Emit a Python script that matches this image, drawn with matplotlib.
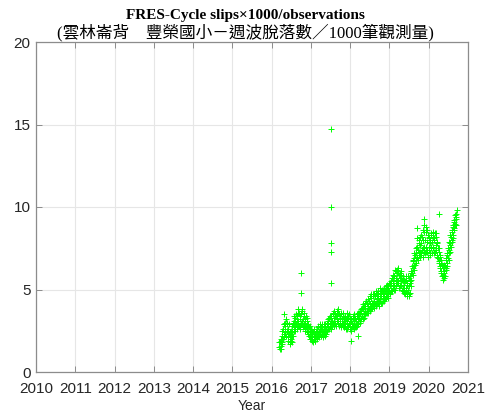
import matplotlib
matplotlib.use("Agg")
import matplotlib.pyplot as plt

# =========================
# Data
# =========================

# observation epochs, decimal year
t = [
    2016.200, 2016.215, 2016.230, 2016.245, 2016.260, 2016.275, 2016.290, 2016.305, 2016.320, 2016.335,
    2016.350, 2016.365, 2016.380, 2016.395, 2016.410, 2016.425, 2016.440, 2016.455, 2016.470, 2016.485,
    2016.500, 2016.515, 2016.530, 2016.545, 2016.560, 2016.575, 2016.590, 2016.605, 2016.620, 2016.635,
    2016.650, 2016.665, 2016.680, 2016.695, 2016.710, 2016.725, 2016.740, 2016.755, 2016.770, 2016.785,
    2016.800, 2016.815, 2016.830, 2016.845, 2016.860, 2016.875, 2016.890, 2016.905, 2016.920, 2016.935,
    2016.950, 2016.965, 2016.980, 2016.995, 2017.010, 2017.025, 2017.040, 2017.055, 2017.070, 2017.085,
    2017.100, 2017.115, 2017.130, 2017.145, 2017.160, 2017.175, 2017.190, 2017.205, 2017.220, 2017.235,
    2017.250, 2017.265, 2017.280, 2017.295, 2017.310, 2017.325, 2017.340, 2017.355, 2017.370, 2017.385,
    2017.400, 2017.415, 2017.430, 2017.445, 2017.460, 2017.475, 2017.490, 2017.505, 2017.520, 2017.535,
    2017.550, 2017.565, 2017.580, 2017.595, 2017.610, 2017.625, 2017.640, 2017.655, 2017.670, 2017.685,
    2017.700, 2017.715, 2017.730, 2017.745, 2017.760, 2017.775, 2017.790, 2017.805, 2017.820, 2017.835,
    2017.850, 2017.865, 2017.880, 2017.895, 2017.910, 2017.925, 2017.940, 2017.955, 2017.970, 2017.985,
    2018.000, 2018.015, 2018.030, 2018.045, 2018.060, 2018.075, 2018.090, 2018.105, 2018.120, 2018.135,
    2018.150, 2018.165, 2018.180, 2018.195, 2018.210, 2018.225, 2018.240, 2018.255, 2018.270, 2018.285,
    2018.300, 2018.315, 2018.330, 2018.345, 2018.360, 2018.375, 2018.390, 2018.405, 2018.420, 2018.435,
    2018.450, 2018.465, 2018.480, 2018.495, 2018.510, 2018.525, 2018.540, 2018.555, 2018.570, 2018.585,
    2018.600, 2018.615, 2018.630, 2018.645, 2018.660, 2018.675, 2018.690, 2018.705, 2018.720, 2018.735,
    2018.750, 2018.765, 2018.780, 2018.795, 2018.810, 2018.825, 2018.840, 2018.855, 2018.870, 2018.885,
    2018.900, 2018.915, 2018.930, 2018.945, 2018.960, 2018.975, 2018.990, 2019.005, 2019.020, 2019.035,
    2019.050, 2019.065, 2019.080, 2019.095, 2019.110, 2019.125, 2019.140, 2019.155, 2019.170, 2019.185,
    2019.200, 2019.215, 2019.230, 2019.245, 2019.260, 2019.275, 2019.290, 2019.305, 2019.320, 2019.335,
    2019.350, 2019.365, 2019.380, 2019.395, 2019.410, 2019.425, 2019.440, 2019.455, 2019.470, 2019.485,
    2019.500, 2019.515, 2019.530, 2019.545, 2019.560, 2019.575, 2019.590, 2019.605, 2019.620, 2019.635,
    2019.650, 2019.665, 2019.680, 2019.695, 2019.710, 2019.725, 2019.740, 2019.755, 2019.770, 2019.785,
    2019.800, 2019.815, 2019.830, 2019.845, 2019.860, 2019.875, 2019.890, 2019.905, 2019.920, 2019.935,
    2019.950, 2019.965, 2019.980, 2019.995, 2020.010, 2020.025, 2020.040, 2020.055, 2020.070, 2020.085,
    2020.100, 2020.115, 2020.130, 2020.145, 2020.160, 2020.175, 2020.190, 2020.205, 2020.220, 2020.235,
    2020.250, 2020.265, 2020.280, 2020.295, 2020.310, 2020.325, 2020.340, 2020.355, 2020.370, 2020.385,
    2020.400, 2020.415, 2020.430, 2020.445, 2020.460, 2020.475, 2020.490, 2020.505, 2020.520, 2020.535,
    2020.550, 2020.565, 2020.580, 2020.595, 2020.610, 2020.625, 2020.640, 2020.655, 2020.670, 2020.685,
    2020.700,
]

# cycle slips x 1000 / observations (first solution of each epoch)
slips_a = [
    1.5, 1.8, 1.4, 1.9, 2.2, 1.7, 2.6, 2.1, 2.9, 2.4,
    2.8, 2.2, 3.0, 2.5, 1.9, 2.6, 2.3, 1.8, 2.1, 2.5,
    1.9, 2.4, 2.8, 2.2, 3.1, 2.7, 2.5, 3.3, 2.9, 2.6,
    3.4, 2.8, 3.1, 3.6, 2.7, 3.2, 3.5, 2.9, 3.0, 3.7,
    3.2, 2.8, 3.4, 2.6, 3.0, 2.7, 3.3, 2.5, 2.9, 2.4,
    2.7, 2.3, 2.5, 2.0, 2.6, 2.2, 1.9, 2.4, 2.1, 2.3,
    1.9, 2.2, 2.5, 2.0, 2.4, 2.7, 2.2, 2.5, 2.9, 2.3,
    2.6, 2.2, 2.8, 2.4, 2.5, 2.9, 2.3, 2.7, 2.4, 2.6,
    2.9, 2.5, 3.1, 2.7, 3.3, 2.8, 3.0, 3.4, 2.6, 3.1,
    3.5, 2.9, 3.3, 3.7, 3.0, 3.4, 2.8, 3.6, 3.2, 3.8,
    3.1, 3.5, 2.9, 3.3, 3.6, 2.8, 3.2, 3.0, 3.4, 2.7,
    3.1, 2.8, 3.3, 2.6, 3.0, 3.2, 2.7, 3.4, 2.9, 2.6,
    2.8, 3.1, 2.5, 3.0, 2.7, 3.2, 2.6, 2.9, 3.3, 2.8,
    3.1, 2.9, 3.4, 3.0, 3.3, 3.6, 3.1, 3.5, 3.2, 3.7,
    3.4, 3.8, 3.3, 3.6, 4.0, 3.5, 3.9, 3.6, 4.2, 3.7,
    4.0, 3.7, 4.3, 3.9, 4.1, 4.5, 3.8, 4.2, 4.6, 4.0,
    4.3, 4.0, 4.6, 4.2, 4.8, 4.4, 4.1, 4.7, 4.5, 4.3,
    4.8, 4.4, 4.9, 4.6, 4.2, 4.7, 5.0, 4.5, 4.8, 4.4,
    4.9, 4.6, 5.1, 4.8, 4.5, 5.2, 4.9, 5.3, 4.7, 5.0,
    5.4, 4.9, 5.6, 5.2, 5.8, 5.3, 5.0, 5.7, 5.5, 6.0,
    5.6, 6.3, 5.4, 5.9, 5.2, 5.7, 6.1, 5.3, 5.6, 5.1,
    5.5, 5.0, 5.3, 4.7, 5.6, 5.1, 4.8, 5.4, 5.0, 5.7,
    4.6, 5.5, 5.8, 5.2, 6.0, 6.4, 5.9, 6.7, 6.2, 6.9,
    6.5, 7.2, 6.8, 7.6, 7.0, 7.4, 8.0, 7.1, 7.7, 7.3,
    7.8, 7.2, 8.2, 7.5, 7.0, 8.5, 7.6, 8.0, 7.3, 8.8,
    7.9, 7.4, 8.3, 7.6, 8.1, 7.2, 7.8, 8.4, 7.5, 7.9,
    8.2, 7.6, 8.0, 7.3, 8.4, 7.7, 7.4, 7.9, 7.1, 7.5,
    7.3, 6.7, 7.0, 6.4, 6.8, 6.1, 6.5, 5.9, 6.3, 5.7,
    6.0, 6.4, 6.2, 6.8, 6.6, 7.1, 6.9, 7.4, 7.2, 7.8,
    7.7, 8.2, 8.0, 8.5, 8.3, 8.8, 8.6, 9.1, 9.0, 9.4,
    9.3,
]

# second solution of each epoch
slips_b = [
    1.8, 1.4, 2.0, 1.6, 1.8, 2.5, 2.0, 2.9, 2.3, 3.0,
    2.3, 3.2, 2.5, 2.9, 2.5, 2.1, 2.9, 2.4, 1.7, 2.0,
    2.3, 1.8, 2.2, 3.0, 2.5, 3.4, 2.9, 2.6, 3.5, 3.2,
    2.9, 3.6, 3.8, 2.8, 3.4, 2.6, 3.0, 3.6, 3.8, 3.1,
    2.7, 3.6, 2.9, 3.2, 2.5, 3.4, 2.8, 3.1, 2.3, 2.8,
    2.2, 2.8, 2.0, 2.5, 2.1, 2.5, 2.3, 1.8, 2.6, 2.0,
    2.3, 1.9, 2.1, 2.6, 2.2, 2.3, 2.8, 2.1, 2.4, 2.7,
    2.2, 2.7, 2.3, 2.9, 2.1, 2.5, 2.8, 2.2, 2.9, 2.3,
    2.5, 3.0, 2.6, 3.2, 2.6, 3.4, 2.7, 2.9, 3.3, 2.8,
    3.0, 3.6, 2.8, 3.1, 3.5, 2.9, 3.4, 3.1, 3.7, 3.0,
    3.6, 2.8, 3.4, 3.0, 2.7, 3.5, 2.9, 3.6, 2.8, 3.3,
    2.7, 3.4, 2.9, 3.2, 3.6, 2.6, 3.3, 2.8, 3.5, 3.1,
    3.3, 2.6, 3.2, 2.7, 3.4, 2.8, 3.3, 3.5, 2.7, 3.2,
    2.7, 3.5, 2.8, 3.6, 2.9, 3.2, 3.7, 3.0, 3.8, 3.3,
    3.9, 3.2, 4.1, 3.5, 3.3, 4.2, 3.5, 4.3, 3.6, 4.1,
    3.6, 4.4, 3.8, 4.6, 3.7, 4.0, 4.7, 3.9, 4.2, 4.7,
    3.9, 4.7, 4.1, 4.9, 4.0, 4.8, 4.6, 4.2, 4.9, 4.0,
    4.3, 5.1, 4.2, 4.9, 5.0, 4.3, 4.6, 5.1, 4.3, 5.0,
    4.5, 5.2, 4.6, 5.3, 5.0, 4.7, 5.4, 4.8, 5.4, 5.5,
    5.0, 5.7, 5.1, 5.9, 5.0, 5.8, 6.2, 5.2, 6.1, 5.4,
    6.2, 5.5, 6.0, 5.1, 6.0, 5.3, 5.5, 5.9, 5.0, 5.8,
    4.9, 5.6, 4.8, 5.5, 5.0, 5.8, 5.3, 4.6, 5.8, 4.7,
    5.2, 4.8, 5.4, 6.1, 5.6, 6.0, 6.8, 6.3, 7.2, 6.5,
    7.1, 6.6, 7.5, 6.9, 8.1, 6.8, 7.3, 7.8, 7.0, 8.2,
    7.1, 8.3, 7.4, 8.6, 8.0, 7.3, 8.9, 7.2, 8.5, 7.6,
    7.3, 8.6, 7.0, 8.2, 7.4, 8.0, 7.1, 7.6, 8.3, 7.2,
    7.5, 8.5, 7.2, 8.1, 7.3, 8.2, 8.4, 7.0, 7.8, 6.9,
    6.6, 7.5, 6.3, 7.1, 6.0, 6.6, 5.8, 6.4, 5.6, 6.1,
    6.5, 5.8, 6.9, 6.3, 7.2, 6.4, 7.5, 6.8, 7.9, 7.3,
    8.3, 7.6, 8.6, 7.9, 8.9, 8.1, 9.2, 8.7, 9.5, 8.9,
    9.6,
]

# isolated outliers
t_out = [2016.31, 2016.76, 2016.76, 2017.51, 2017.51, 2017.52, 2017.51, 2017.52,
         2018.03, 2018.20, 2019.69, 2019.88, 2020.25, 2020.72]
slips_out = [3.5, 6.0, 4.8, 14.7, 10.0, 7.8, 7.25, 5.4,
             1.9, 2.2, 8.7, 9.3, 9.6, 9.8]

years = list(range(2010, 2022))
y_ticks = [0, 5, 10, 15, 20]

# =========================
# Plot
# =========================

plt.rcParams["font.family"] = ["Liberation Sans", "DejaVu Sans"]

fig = plt.figure(figsize=(4.91, 4.17), dpi=100)
ax = fig.add_axes([36 / 491, 1 - 372 / 417, 432 / 491, 330 / 417])

green = "#00ff00"
ax.plot(t + t, slips_a + slips_b, "+", color=green, markersize=5, markeredgewidth=0.7)
ax.plot(t_out, slips_out, "+", color=green, markersize=5, markeredgewidth=0.7)

ax.set_xlim(2010, 2021)
ax.set_ylim(0, 20)
ax.set_xticks(years)
ax.set_yticks(y_ticks)
ax.grid(True, color="#e6e6e6", linewidth=0.8)
ax.set_axisbelow(True)

for side in ax.spines.values():
    side.set_color("#8c8c8c")
    side.set_linewidth(0.9)

ax.tick_params(direction="in", length=4, width=0.7, color="#8c8c8c",
               top=True, right=True, labelsize=11, labelcolor="#262626")
ax.tick_params(axis="x", pad=7)
ax.tick_params(axis="y", pad=4)

ax.set_xlabel("Year", fontsize=10, color="#262626", labelpad=2)

fig.text(0.5, 1 - 15 / 417, "FRES-Cycle slips\u00d71000/observations",
         ha="center", va="center", fontsize=11, fontweight="bold",
         family=["Liberation Serif", "Noto Sans CJK TC"])
fig.text(0.5, 1 - 33 / 417, "(雲林崙背\u3000豐榮國小－週波脫落數／1000筆觀測量)",
         ha="center", va="center", fontsize=12,
         family=["Liberation Serif", "Noto Sans CJK TC"])

plt.savefig("out.png", dpi=100)
plt.close()
